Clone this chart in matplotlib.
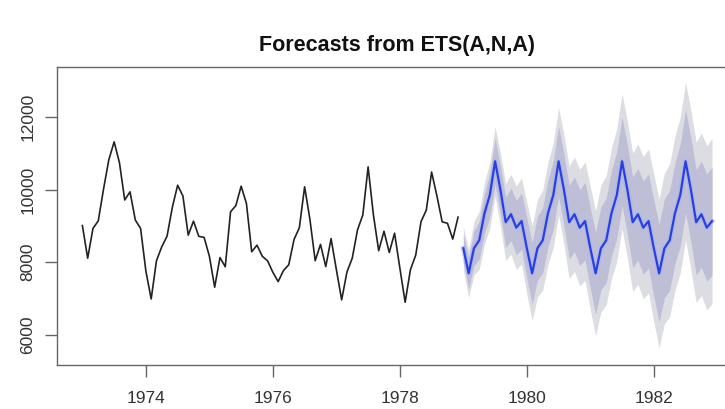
import matplotlib
matplotlib.use("Agg")
import matplotlib.pyplot as plt
import numpy as np

plt.rcParams['font.family'] = ['Liberation Sans', 'DejaVu Sans']

# Observed monthly series, 1973-1978
observed = [
    9007, 8106, 8928, 9137, 10017, 10826, 11317, 10744, 9713, 9938, 9161, 8927,
    7750, 6981, 8038, 8422, 8714, 9512, 10120, 9823, 8743, 9129, 8710, 8680,
    8162, 7306, 8124, 7870, 9387, 9556, 10093, 9620, 8285, 8466, 8160, 8034,
    7717, 7461, 7767, 7925, 8623, 8945, 10078, 9179, 8037, 8488, 7874, 8647,
    7792, 6957, 7726, 8106, 8890, 9299, 10625, 9302, 8314, 8850, 8265, 8796,
    7836, 6892, 7791, 8192, 9115, 9434, 10484, 9827, 9110, 9070, 8633, 9240,
]
obs_start = 1973.0

# Point forecasts (seasonal pattern repeats each year), 1979-1982
forecast = [
    8380, 7690, 8380, 8600, 9350, 9850, 10780, 10000, 9100, 9320, 8950, 9130,
    8380, 7690, 8380, 8600, 9350, 9850, 10780, 10000, 9100, 9320, 8950, 9130,
    8380, 7690, 8380, 8600, 9350, 9850, 10780, 10000, 9100, 9320, 8950, 9130,
    8380, 7690, 8380, 8600, 9350, 9850, 10780, 10000, 9100, 9320, 8950, 9130,
]
fc_start = 1979.0

# Half-widths of the prediction intervals
half80 = [384, 434, 481, 522, 560, 596, 629, 661, 692, 722, 750, 777,
          830, 855, 878, 902, 924, 946, 968, 989, 1010, 1030, 1050, 1070,
          1109, 1128, 1146, 1164, 1182, 1198, 1216, 1233, 1250, 1266, 1282, 1298,
          1330, 1346, 1361, 1376, 1392, 1406, 1421, 1435, 1450, 1464, 1478, 1492]
half95 = [588, 664, 735, 798, 857, 911, 962, 1011, 1058, 1103, 1147, 1188,
          1270, 1307, 1343, 1380, 1413, 1446, 1480, 1513, 1544, 1576, 1605, 1637,
          1695, 1725, 1752, 1780, 1807, 1833, 1860, 1886, 1911, 1936, 1960, 1985,
          2034, 2058, 2082, 2105, 2129, 2150, 2174, 2195, 2217, 2238, 2260, 2281]

x_ticks = [1974, 1976, 1978, 1980, 1982]
y_ticks = [6000, 8000, 10000, 12000]
title = "Forecasts from ETS(A,N,A)"

obs = np.array(observed, dtype=float)
fc = np.array(forecast, dtype=float)
h80 = np.array(half80, dtype=float)
h95 = np.array(half95, dtype=float)
t_obs = obs_start + np.arange(len(obs)) / 12.0
t_fc = fc_start + np.arange(len(fc)) / 12.0

fig = plt.figure(figsize=(7.25, 4.09), dpi=100)
ax = fig.add_axes([57 / 725, 1 - 365 / 409, 680 / 725, 298 / 409])

ax.fill_between(t_fc, fc - h95, fc + h95, color="#dcdce3", lw=0)
ax.fill_between(t_fc, fc - h80, fc + h80, color="#bebed7", lw=0)
ax.plot(t_obs, obs, color="#222222", lw=1.2)
ax.plot(t_fc, fc, color="#a8b4f2", lw=3.6, alpha=0.55, solid_joinstyle="round")
ax.plot(t_fc, fc, color="#2a3fe0", lw=1.6)

ax.set_xlim(1972.60, 1983.31)
ax.set_ylim(5160, 13382)
ax.set_xticks(x_ticks)
ax.set_xticklabels([str(v) for v in x_ticks])
ax.set_yticks(y_ticks)
ax.set_yticklabels([str(v) for v in y_ticks], rotation=90, va="center")

for s in ax.spines.values():
    s.set_color("#666666")
    s.set_linewidth(1.0)
ax.tick_params(axis="both", direction="out", length=8.5, width=1.0,
               color="#666666", labelcolor="#333333", labelsize=12.5)
ax.tick_params(axis="x", pad=10)
ax.tick_params(axis="y", pad=7)

fig.text(397 / 725, 1 - 45 / 409, title, ha="center", va="center",
         fontsize=15.5, fontweight="bold", color="#111111")

fig.savefig("out.png", dpi=100)
